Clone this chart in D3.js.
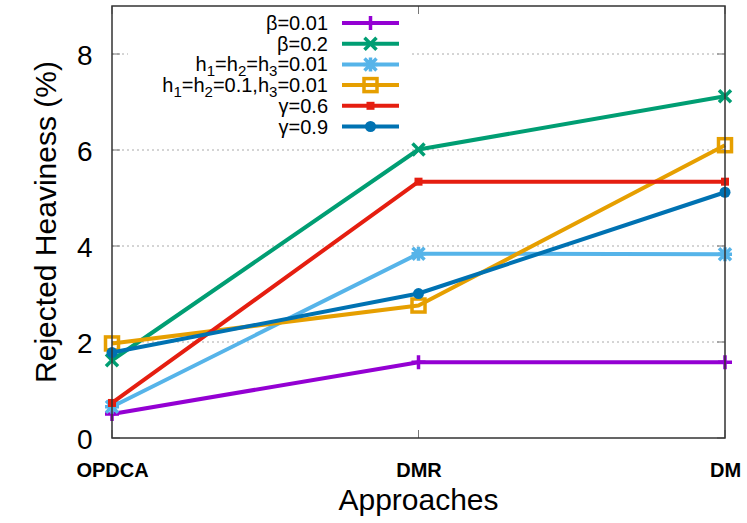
<!DOCTYPE html>
<html><head><meta charset="utf-8">
<script src="https://cdn.jsdelivr.net/npm/d3@7"></script>
<style>body{margin:0;background:#fff}svg{display:block}</style>
</head><body>
<svg id="c" width="747" height="523"></svg>
<script>
const categories = ["OPDCA", "DMR", "DM"];
const yTicks = [0, 2, 4, 6, 8];
const seriesNames = ["β=0.01", "β=0.2", "h_1=h_2=h_3=0.01", "h_1=h_2=0.1,h_3=0.01", "γ=0.6", "γ=0.9"];
const beta001 = [0.50, 1.58, 1.58];
const beta02 = [1.62, 6.01, 7.12];
const hAll001 = [0.65, 3.84, 3.83];
const hMixed = [1.97, 2.76, 6.10];
const gamma06 = [0.73, 5.34, 5.34];
const gamma09 = [1.78, 3.01, 5.12];
const colors = ["#9400d3", "#009e73", "#56b4e9", "#e69f00", "#e51e10", "#0072b2"];
const markers = ["plus", "cross", "star", "square", "fsquare", "circle"];
const seriesValues = [beta001, beta02, hAll001, hMixed, gamma06, gamma09];

const svg = d3.select("#c");
const L = 112, R = 725, T = 6, B = 438;
const x = d3.scalePoint().domain(categories).range([L, R]);
const y = d3.scaleLinear().domain([0, 9]).range([B, T]);
const font = "'Liberation Sans', Arial, Helvetica, sans-serif";

// grid
svg.append("g").selectAll("line").data(yTicks.filter(d => d > 0)).join("line")
  .attr("x1", L).attr("x2", R).attr("y1", d => y(d)).attr("y2", d => y(d))
  .attr("stroke", "#aaa").attr("stroke-width", 1).attr("stroke-dasharray", "2,3");

// tick marks (inward, mirrored)
const tk = svg.append("g").attr("stroke", "#777").attr("stroke-width", 1);
yTicks.forEach(d => {
  tk.append("line").attr("x1", L).attr("x2", L + 8).attr("y1", y(d)).attr("y2", y(d));
  tk.append("line").attr("x1", R).attr("x2", R - 8).attr("y1", y(d)).attr("y2", y(d));
});
categories.forEach(c => {
  tk.append("line").attr("x1", x(c)).attr("x2", x(c)).attr("y1", B).attr("y2", B - 8);
  tk.append("line").attr("x1", x(c)).attr("x2", x(c)).attr("y1", T).attr("y2", T + 8);
});

// y axis labels
const yAxis = d3.axisLeft(y).tickValues(yTicks).tickSize(0).tickPadding(0);
const ga = svg.append("g").attr("transform", `translate(${L - 19.5},0)`).call(yAxis);
ga.select(".domain").remove();
ga.selectAll("text").attr("font-family", font).attr("font-size", 28).attr("fill", "#000").attr("dy", "0.36em");

// x axis labels
const xAxis = d3.axisBottom(x).tickSize(0).tickPadding(0);
const gx = svg.append("g").attr("transform", `translate(0,${B + 39})`).call(xAxis);
gx.select(".domain").remove();
gx.selectAll("text").attr("font-family", font).attr("font-size", 20).attr("font-weight", "bold").attr("fill", "#000").attr("dy", 0);

// axis titles
svg.append("text").attr("x", (L + R) / 2).attr("y", 510).attr("text-anchor", "middle")
  .attr("font-family", font).attr("font-size", 30).text("Approaches");
svg.append("text").attr("transform", `translate(56,${(T + B) / 2}) rotate(-90)`).attr("text-anchor", "middle")
  .attr("font-family", font).attr("font-size", 30).text("Rejected Heaviness (%)");

// legend background
svg.append("rect").attr("x", 128).attr("y", 9).attr("width", 282).attr("height", 128).attr("fill", "#fff");

function drawMarker(g, type, cx, cy, color) {
  const sw = 3.5;
  if (type === "plus") {
    g.append("path").attr("d", `M${cx - 7},${cy}H${cx + 7}M${cx},${cy - 7}V${cy + 7}`).attr("stroke", color).attr("stroke-width", sw).attr("fill", "none");
  } else if (type === "cross") {
    g.append("path").attr("d", `M${cx - 6},${cy - 6}L${cx + 6},${cy + 6}M${cx - 6},${cy + 6}L${cx + 6},${cy - 6}`).attr("stroke", color).attr("stroke-width", sw).attr("fill", "none");
  } else if (type === "star") {
    g.append("path").attr("d", `M${cx - 6},${cy - 6}L${cx + 6},${cy + 6}M${cx - 6},${cy + 6}L${cx + 6},${cy - 6}M${cx - 7},${cy}H${cx + 7}M${cx},${cy - 7}V${cy + 7}`).attr("stroke", color).attr("stroke-width", sw).attr("fill", "none");
  } else if (type === "square") {
    g.append("rect").attr("x", cx - 6.5).attr("y", cy - 6.5).attr("width", 13).attr("height", 13).attr("stroke", color).attr("stroke-width", sw).attr("fill", "none");
  } else if (type === "fsquare") {
    g.append("rect").attr("x", cx - 4).attr("y", cy - 4).attr("width", 8).attr("height", 8).attr("fill", color);
  } else if (type === "circle") {
    g.append("circle").attr("cx", cx).attr("cy", cy).attr("r", 5.5).attr("fill", color);
  }
}

function addLabel(sel, label) {
  const parts = label.split(/(_\d)/).filter(p => p);
  let lowered = false;
  parts.forEach(p => {
    if (p[0] === "_") {
      sel.append("tspan").attr("font-size", 15).attr("dy", 5).text(p.slice(1));
      lowered = true;
    } else {
      const ts = sel.append("tspan").text(p);
      if (lowered) { ts.attr("dy", -5); lowered = false; }
    }
  });
}

const line = d3.line().x((d, i) => x(categories[i])).y(d => y(d));
const legendRowY = i => 23 + i * 20.7;

seriesValues.forEach((vals, si) => {
  const g = svg.append("g");
  const ly = legendRowY(si);
  // legend
  const t = g.append("text").attr("x", 328).attr("y", ly + 7).attr("text-anchor", "end")
    .attr("font-family", font).attr("font-size", 20).attr("fill", "#000");
  addLabel(t, seriesNames[si]);
  g.append("line").attr("x1", 342).attr("x2", 399).attr("y1", ly).attr("y2", ly)
    .attr("stroke", colors[si]).attr("stroke-width", 4);
  drawMarker(g, markers[si], 370.5, ly, colors[si]);
  // series line
  g.append("path").attr("d", line(vals)).attr("fill", "none").attr("stroke", colors[si]).attr("stroke-width", 4).attr("stroke-linejoin", "round");
  vals.forEach((v, i) => drawMarker(g, markers[si], x(categories[i]), y(v), colors[si]));
});

// border
svg.append("rect").attr("x", L).attr("y", T).attr("width", R - L).attr("height", B - T)
  .attr("fill", "none").attr("stroke", "#333").attr("stroke-width", 1.5);
</script>
</body></html>
